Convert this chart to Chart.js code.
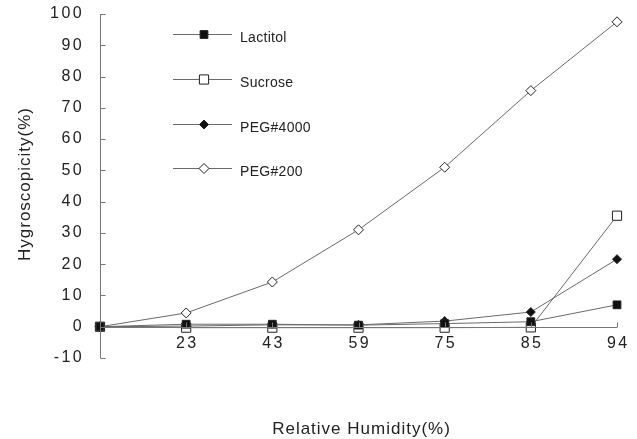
<!DOCTYPE html>
<html><head><meta charset="utf-8">
<script src="https://cdn.jsdelivr.net/npm/chart.js@4"></script>
<style>html,body{margin:0;padding:0;background:#fff}#wrap{width:637px;height:439px}</style>
</head><body><div id="wrap"><canvas id="c" width="637" height="439"></canvas></div>
<script>
const categories = ['0', '23', '43', '59', '75', '85', '94'];
const lactitol = [0, 0.8, 0.8, 0.5, 1.0, 1.6, 7.0];
const sucrose = [0, -0.3, -0.3, -0.3, -0.3, -0.2, 35.5];
const peg4000 = [0, 0.2, 0.6, 0.6, 1.8, 4.7, 21.6];
const peg200 = [0, 4.4, 14.3, 31.0, 51.0, 75.5, 97.5];
const yTicks = [-10, 0, 10, 20, 30, 40, 50, 60, 70, 80, 90, 100];
const seriesNames = ['Lactitol', 'Sucrose', 'PEG#4000', 'PEG#200'];
const xTitle = 'Relative Humidity(%)';
const yTitle = 'Hygroscopicity(%)';

const LINE = '#6a6a6a';
const TEXT = '#222';
const FONT = 'Liberation Sans, Arial, sans-serif';

const spacingPlugin = {
  id: 'spacing',
  beforeLayout(chart) { chart.ctx.letterSpacing = '2.4px'; },
  beforeDraw(chart) { chart.ctx.letterSpacing = '2.4px'; }
};

const axesPlugin = {
  id: 'axesLines',
  afterDatasetsDraw(chart) {
    const ctx = chart.ctx, x = chart.scales.x, y = chart.scales.y, ca = chart.chartArea;
    ctx.save();
    ctx.strokeStyle = '#777';
    ctx.lineWidth = 1;
    ctx.beginPath();
    const yl = Math.round(ca.left) + 0.5;
    ctx.moveTo(yl, y.getPixelForValue(100));
    ctx.lineTo(yl, y.getPixelForValue(-10));
    yTicks.forEach(v => {
      const p = Math.round(y.getPixelForValue(v)) + 0.5;
      ctx.moveTo(yl, p); ctx.lineTo(yl + 5, p);
    });
    const y0 = Math.round(y.getPixelForValue(0)) + 0.5;
    ctx.moveTo(yl, y0);
    ctx.lineTo(x.getPixelForValue(categories.length - 1), y0);
    for (let i = 1; i < categories.length; i++) {
      const p = Math.round(x.getPixelForValue(i)) + 0.5;
      ctx.moveTo(p, y0); ctx.lineTo(p, y0 - 5);
    }
    ctx.stroke();
    ctx.restore();
  },
  afterDraw(chart) {
    const ctx = chart.ctx, x = chart.scales.x, y = chart.scales.y, ca = chart.chartArea;
    ctx.save();
    ctx.fillStyle = TEXT;
    ctx.letterSpacing = '2.4px';
    ctx.font = '16px ' + FONT;
    ctx.textAlign = 'center';
    ctx.textBaseline = 'middle';
    const y0 = y.getPixelForValue(0);
    for (let i = 1; i < categories.length; i++) {
      ctx.fillText(categories[i], x.getPixelForValue(i) + 1.2, y0 + 17);
    }
    ctx.letterSpacing = '1px';
    ctx.font = '17px ' + FONT;
    ctx.fillText(xTitle, (ca.left + ca.right) / 2 + 3, 429);
    ctx.translate(25, 184);
    ctx.rotate(-Math.PI / 2);
    ctx.fillText(yTitle, 0, 0);
    ctx.restore();
  }
};

const legendPlugin = {
  id: 'customLegend',
  afterDraw(chart) {
    const ctx = chart.ctx;
    const rowsY = [34, 79, 124, 168];
    chart.data.datasets.forEach((ds, i) => {
      const ry = rowsY[i];
      ctx.save();
      ctx.strokeStyle = LINE; ctx.lineWidth = 1;
      ctx.beginPath(); ctx.moveTo(173, ry + 0.5); ctx.lineTo(232, ry + 0.5); ctx.stroke();
      ctx.fillStyle = ds.pointBackgroundColor; ctx.strokeStyle = ds.pointBorderColor; ctx.lineWidth = 1;
      Chart.helpers.drawPoint(ctx, {pointStyle: ds.pointStyle, radius: ds.pointRadius, borderWidth: 1, rotation: 0}, 204, ry + 0.5);
      ctx.letterSpacing = '0.3px';
      ctx.fillStyle = TEXT;
      ctx.font = '14px ' + FONT;
      ctx.textBaseline = 'middle';
      ctx.textAlign = 'left';
      ctx.fillText(ds.label, 240, ry + 4);
      ctx.restore();
    });
  }
};

function ds(label, data, style, radius, filled) {
  return {
    label, data,
    borderColor: LINE, borderWidth: 1,
    pointStyle: style, pointRadius: radius, pointHoverRadius: radius,
    pointBackgroundColor: filled ? '#111' : '#fff',
    pointBorderColor: '#222', pointBorderWidth: 1,
    tension: 0, fill: false
  };
}

new Chart(document.getElementById('c'), {
  type: 'line',
  data: {
    labels: categories,
    datasets: [
      ds(seriesNames[0], lactitol, 'rect', 5.5, true),
      ds(seriesNames[1], sucrose, 'rect', 6.5, false),
      ds(seriesNames[2], peg4000, 'rectRot', 4.5, true),
      ds(seriesNames[3], peg200, 'rectRot', 5, false)
    ]
  },
  options: {
    responsive: false,
    animation: false,
    devicePixelRatio: 1,
    layout: { padding: { left: 0, right: 20, top: 14, bottom: 0 } },
    plugins: { legend: { display: false }, tooltip: { enabled: false } },
    scales: {
      x: {
        type: 'category',
        offset: false,
        grid: { display: false },
        border: { display: false },
        ticks: { display: false },
        afterFit: s => { s.height = 81; s.paddingLeft = 0; s.paddingRight = 0; }
      },
      y: {
        min: -10, max: 100,
        grid: { display: false },
        border: { display: false },
        afterBuildTicks: s => { s.ticks = yTicks.map(v => ({ value: v })); },
        ticks: { color: TEXT, font: { family: FONT, size: 16 }, padding: 8 },
        afterFit: s => { s.width = 100; s.paddingTop = 0; s.paddingBottom = 0; }
      }
    }
  },
  plugins: [spacingPlugin, axesPlugin, legendPlugin]
});
</script></body></html>
